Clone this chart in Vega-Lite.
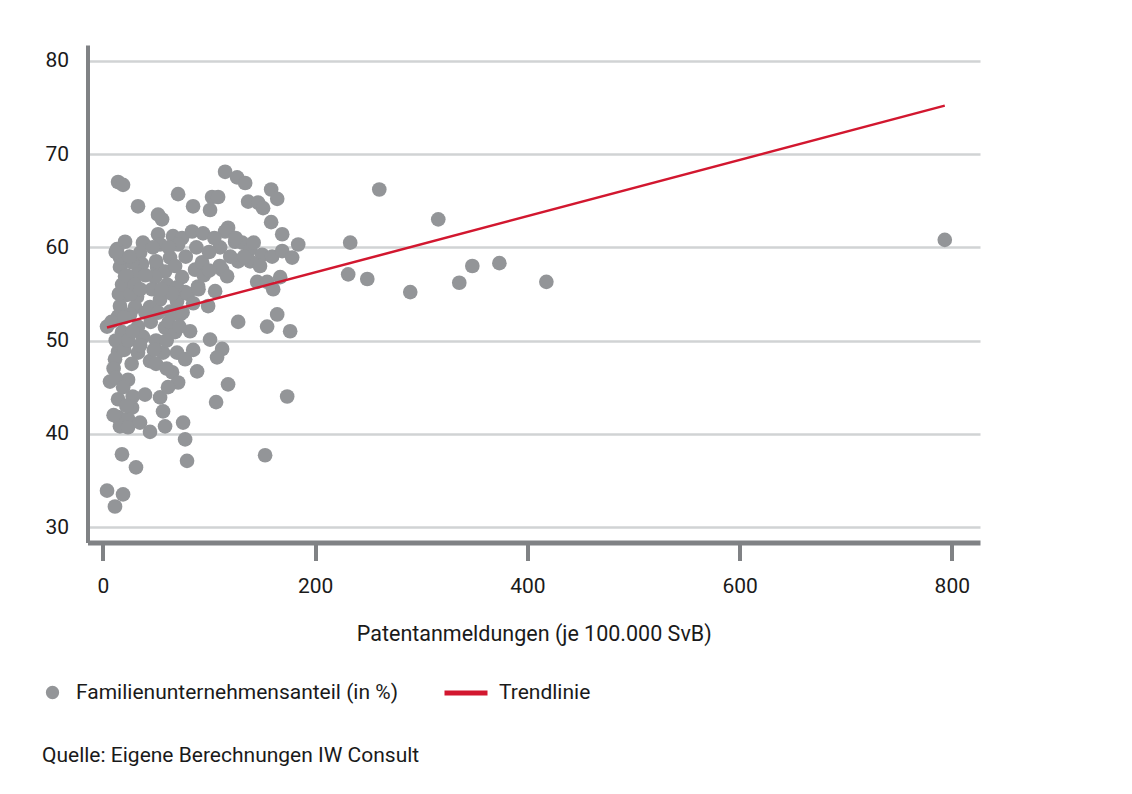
{
  "$schema": "https://vega.github.io/schema/vega-lite/v6.json",
  "width": 892.5,
  "height": 497.5,
  "autosize": "none",
  "padding": {"left": 87.5, "top": 45, "right": 152, "bottom": 251.5},
  "background": "white",
  "config": {
    "view": {"stroke": null},
    "font": "Roboto",
    "axis": {"labelFont": "Roboto", "titleFont": "Roboto", "labelColor": "#1a1a1a", "titleColor": "#1a1a1a", "labelFontSize": 21, "titleFontSize": 21.5, "titleFontWeight": "normal"},
    "legend": {"labelFont": "Roboto", "labelFontSize": 21, "labelColor": "#1a1a1a", "padding": 0, "offset": 0, "labelLimit": 0}
  },
  "title": {"text": "Quelle: Eigene Berechnungen IW Consult", "orient": "bottom", "anchor": "start", "fontSize": 21, "fontWeight": "normal", "font": "Roboto", "color": "#1a1a1a", "dx": 0, "offset": 42},
  "datasets": {
    "pts": [
      {"x":14.2,"y":67.0},{"x":18.9,"y":66.7},{"x":33.0,"y":64.4},{"x":70.8,"y":65.7},{"x":84.9,"y":64.4},
      {"x":51.9,"y":63.5},{"x":55.7,"y":63.0},{"x":51.9,"y":61.4},{"x":66.0,"y":61.2},{"x":74.5,"y":61.0},
      {"x":84.0,"y":61.7},{"x":94.3,"y":61.5},{"x":20.8,"y":60.6},{"x":13.2,"y":59.8},{"x":37.7,"y":60.5},
      {"x":53.8,"y":60.3},{"x":70.8,"y":60.3},{"x":16.0,"y":57.9},{"x":34.9,"y":59.4},{"x":16.0,"y":58.9},
      {"x":36.8,"y":58.2},{"x":27.4,"y":58.4},{"x":63.2,"y":58.9},{"x":50.9,"y":57.9},{"x":58.5,"y":57.4},
      {"x":20.8,"y":56.9},{"x":32.1,"y":57.1},{"x":49.1,"y":56.8},{"x":74.5,"y":56.8},{"x":86.8,"y":57.6},
      {"x":89.6,"y":55.8},{"x":20.8,"y":55.5},{"x":22.6,"y":54.9},{"x":46.2,"y":55.5},{"x":60.4,"y":56.0},
      {"x":69.8,"y":55.7},{"x":77.4,"y":55.2},{"x":32.1,"y":54.7},{"x":53.8,"y":54.4},{"x":69.8,"y":54.2},
      {"x":16.0,"y":53.7},{"x":30.2,"y":53.6},{"x":44.3,"y":53.6},{"x":63.2,"y":53.1},{"x":72.6,"y":52.8},
      {"x":14.2,"y":52.6},{"x":25.5,"y":52.8},{"x":3.8,"y":51.5},{"x":17.9,"y":50.9},{"x":33.0,"y":51.5},
      {"x":37.7,"y":50.4},{"x":58.5,"y":51.4},{"x":67.9,"y":50.9},{"x":82.1,"y":51.0},
      {"x":115.1,"y":68.1},{"x":126.4,"y":67.5},{"x":134.0,"y":66.9},{"x":158.5,"y":66.2},{"x":164.2,"y":65.2},
      {"x":102.8,"y":65.4},{"x":108.5,"y":65.4},{"x":100.9,"y":64.0},{"x":136.8,"y":64.9},{"x":146.2,"y":64.8},
      {"x":150.9,"y":64.2},{"x":158.5,"y":62.7},{"x":168.9,"y":61.4},{"x":184.0,"y":60.3},{"x":117.9,"y":62.1},
      {"x":115.1,"y":61.7},{"x":110.4,"y":60.0},{"x":124.5,"y":60.6},{"x":131.1,"y":60.5},{"x":138.7,"y":59.8},
      {"x":150.0,"y":59.2},{"x":159.4,"y":59.0},{"x":168.9,"y":59.6},{"x":178.3,"y":58.9},{"x":127.4,"y":58.5},
      {"x":138.7,"y":58.5},{"x":93.4,"y":58.4},{"x":112.3,"y":57.6},{"x":117.0,"y":56.9},{"x":145.3,"y":56.3},
      {"x":154.7,"y":56.3},{"x":167.0,"y":56.8},{"x":160.4,"y":55.5},{"x":105.7,"y":55.3},{"x":99.1,"y":53.7},
      {"x":127.4,"y":52.0},{"x":154.7,"y":51.5},{"x":164.2,"y":52.8},{"x":176.4,"y":51.0},
      {"x":14.2,"y":48.8},{"x":11.3,"y":48.0},{"x":33.0,"y":48.7},{"x":44.3,"y":47.8},{"x":56.6,"y":48.7},
      {"x":69.8,"y":48.7},{"x":77.4,"y":48.0},{"x":65.1,"y":46.6},{"x":88.7,"y":46.7},{"x":6.6,"y":45.6},
      {"x":23.6,"y":45.8},{"x":70.8,"y":45.5},{"x":39.6,"y":44.2},{"x":53.8,"y":43.9},{"x":61.3,"y":45.0},
      {"x":14.2,"y":43.7},{"x":27.4,"y":42.8},{"x":14.2,"y":41.8},{"x":23.6,"y":41.6},{"x":16.0,"y":40.8},
      {"x":23.6,"y":40.7},{"x":34.9,"y":41.2},{"x":56.6,"y":42.4},{"x":58.5,"y":40.8},{"x":44.3,"y":40.2},
      {"x":75.5,"y":41.2},{"x":77.4,"y":39.4},{"x":79.2,"y":37.1},{"x":17.9,"y":37.8},{"x":31.1,"y":36.4},
      {"x":3.8,"y":33.9},{"x":18.9,"y":33.5},{"x":11.3,"y":32.2},
      {"x":100.9,"y":50.1},{"x":112.3,"y":49.1},{"x":107.5,"y":48.2},{"x":117.9,"y":45.3},{"x":106.6,"y":43.4},
      {"x":173.6,"y":44.0},{"x":152.8,"y":37.7},
      {"x":231.1,"y":57.1},{"x":233.0,"y":60.5},{"x":249.1,"y":56.6},{"x":260.4,"y":66.2},{"x":289.6,"y":55.2},
      {"x":316.0,"y":63.0},{"x":335.8,"y":56.2},{"x":348.1,"y":58.0},{"x":373.6,"y":58.3},{"x":417.9,"y":56.3},
      {"x":793.4,"y":60.8},
      {"x":10,"y":47},{"x":12,"y":50},{"x":15,"y":55},{"x":18,"y":56},{"x":22,"y":57},{"x":25,"y":59},
      {"x":12,"y":46},{"x":20,"y":49},{"x":24,"y":50},{"x":27,"y":47.5},{"x":28,"y":44},{"x":22,"y":43},
      {"x":10,"y":42},{"x":19,"y":45},{"x":26,"y":55},{"x":30,"y":56},{"x":35,"y":55.5},{"x":40,"y":57},
      {"x":47,"y":60},{"x":45,"y":52},{"x":40,"y":53},{"x":50,"y":50},{"x":48,"y":49},{"x":60,"y":50},
      {"x":62,"y":52},{"x":65,"y":55},{"x":55,"y":55.5},{"x":52,"y":53},{"x":75,"y":53},{"x":80,"y":55},
      {"x":85,"y":54},{"x":90,"y":55.5},{"x":95,"y":57},{"x":62,"y":60},{"x":78,"y":59},{"x":88,"y":60},
      {"x":100,"y":59.5},{"x":105,"y":61},{"x":120,"y":59},{"x":125,"y":61},{"x":133,"y":59},{"x":142,"y":60.5},
      {"x":148,"y":58},{"x":110,"y":58},{"x":100,"y":57.5},{"x":50,"y":47.5},{"x":60,"y":47},{"x":12,"y":59.5},
      {"x":8,"y":52},{"x":20,"y":52.5},{"x":28,"y":51},{"x":35,"y":49.5},{"x":68,"y":58},{"x":72,"y":51.5},
      {"x":85,"y":49},{"x":50,"y":58.5}
    ],
    "trend": [
      {"x": 3.8, "y": 51.4},
      {"x": 793.4, "y": 75.2}
    ]
  },
  "layer": [
    {
      "data": {"name": "pts"},
      "transform": [{"calculate": "'Familienunternehmensanteil (in %)'", "as": "series"}],
      "mark": {"type": "point", "filled": true, "opacity": 1, "size": 215, "strokeWidth": 0},
      "encoding": {
        "x": {"field": "x", "type": "quantitative",
              "scale": {"domain": [-14.6, 826.6], "nice": false, "zero": false},
              "axis": {"title": "Patentanmeldungen (je 100.000 SvB)", "values": [0, 200, 400, 600, 800], "grid": false,
                       "domainColor": "#808285", "domainWidth": 5, "tickColor": "#808285", "tickWidth": 4, "tickSize": 18,
                       "labelPadding": 15, "titlePadding": 27, "format": "d"}},
        "y": {"field": "y", "type": "quantitative",
              "scale": {"domain": [28.34, 81.7], "nice": false, "zero": false},
              "axis": {"title": null, "values": [30, 40, 50, 60, 70, 80], "grid": true, "gridColor": "#d1d3d4", "gridWidth": 2.5,
                       "domainColor": "#808285", "domainWidth": 4, "ticks": false, "tickSize": 0, "labelPadding": 19}},
        "fill": {"field": "series", "type": "nominal",
                 "scale": {"domain": ["Familienunternehmensanteil (in %)"], "range": ["#939598"]},
                 "legend": {"title": null, "orient": "none", "legendX": -45.5, "legendY": 637, "symbolSize": 177, "symbolType": "circle", "labelOffset": 13, "symbolStrokeWidth": 0}}
      }
    },
    {
      "data": {"name": "trend"},
      "transform": [{"calculate": "'Trendlinie'", "as": "series"}],
      "mark": {"type": "line", "strokeWidth": 2.5},
      "encoding": {
        "x": {"field": "x", "type": "quantitative"},
        "y": {"field": "y", "type": "quantitative"},
        "stroke": {"field": "series", "type": "nominal",
                   "scale": {"domain": ["Trendlinie"], "range": ["#d2172f"]},
                   "legend": {"title": null, "orient": "none", "legendX": 354.5, "legendY": 624, "symbolSize": 1849, "symbolType": "stroke", "symbolStrokeWidth": 5, "labelOffset": 9}}
      }
    }
  ]
}
